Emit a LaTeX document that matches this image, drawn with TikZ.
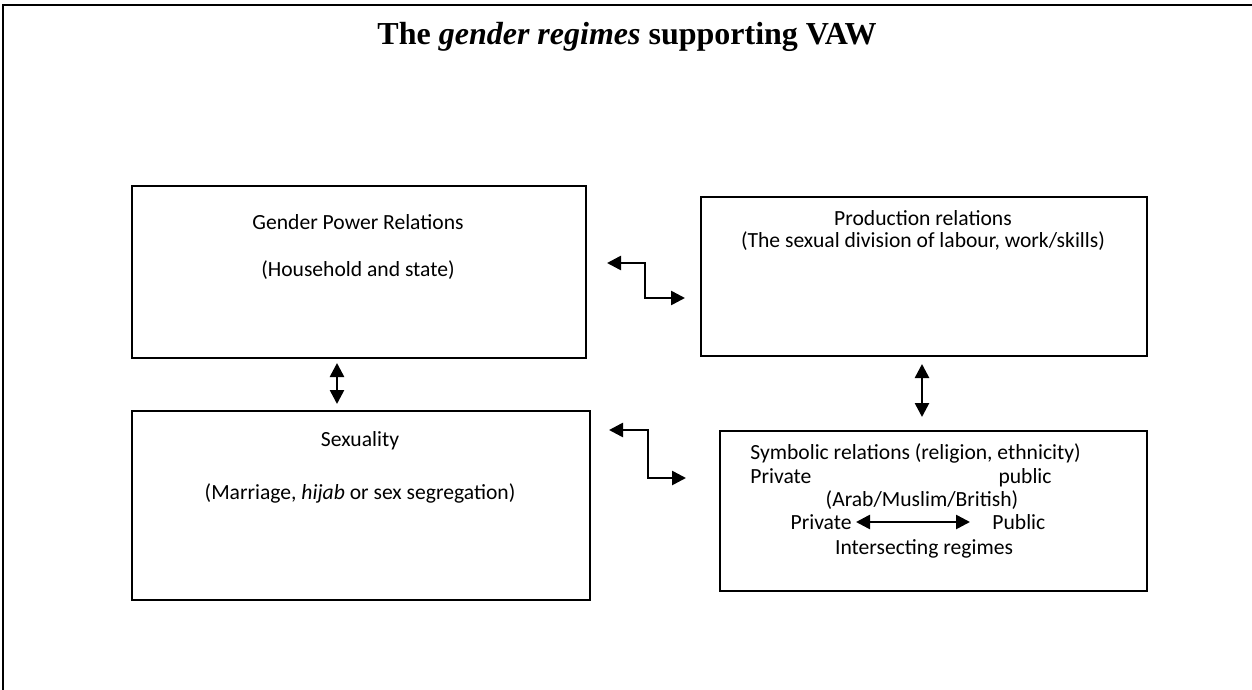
\documentclass[tikz,border=0pt]{standalone}
\usepackage{fontspec}
\setmainfont{Carlito}
\newfontfamily\titlefont{Liberation Serif}
\usetikzlibrary{arrows.meta}
\begin{document}
\begin{tikzpicture}[x=0.5pt, y=-0.5pt, font=\fontsize{10.8}{13}\selectfont, line join=miter, >={Triangle[length=7pt,width=7pt]},
	regbox/.style={draw, line width=0.8pt, anchor=north west, inner sep=0pt},
	txt/.style={inner sep=1pt},
	link/.style={<->, line width=1.3pt}]
	\useasboundingbox (0,0) rectangle (1252,690);
	% outer frame, cut off at right and bottom
	\draw[line width=1pt] (3,700) -- (3,5) -- (1260,5);
	\node[font=\titlefont\bfseries\fontsize{16}{19}\selectfont] (title) at (627,37) {The \textit{gender regimes} supporting VAW};
	% the four regimes
	\node[regbox, minimum width=227pt, minimum height=86pt] (power) at (131,185) {};
	\node[regbox, minimum width=223pt, minimum height=79.5pt] (prod) at (700,196) {};
	\node[regbox, minimum width=229pt, minimum height=94.5pt] (sex) at (131,410) {};
	\node[regbox, minimum width=213.5pt, minimum height=80pt] (symb) at (719,430) {};
	\node[txt] (power1) at (358,222) {Gender Power Relations};
	\node[txt] (power2) at (358,270) {(Household and state)};
	\node[txt] (prod1) at (923,218) {Production relations};
	\node[txt] (prod2) at (923,241) {(The sexual division of labour, work/skills)};
	\node[txt] (sex1) at (360,441) {Sexuality};
	\node[txt] (sex2) at (360,493) {(Marriage, \textit{hijab} or sex segregation)};
	\node[txt, anchor=base west] (symb1) at (748,459) {Symbolic relations (religion, ethnicity)};
	\node[txt, anchor=base west] (priv1) at (748,483) {Private};
	\node[txt, anchor=base east] (pub1) at (1054,483) {public};
	\node[txt, anchor=base] (symb2) at (922,506) {(Arab/Muslim/British)};
	\node[txt, anchor=base east] (priv2) at (854,529) {Private};
	\node[txt, anchor=base west] (pub2) at (990,529) {Public};
	\node[txt, anchor=base] (symb3) at (924,554) {Intersecting regimes};
	% connector ends
	\path
	(337,363) coordinate (v1a)
	(337,404) coordinate (v1b)
	(922,364) coordinate (v2a)
	(922,417) coordinate (v2b)
	(607,263) coordinate (e1a)
	(645,280) coordinate (e1m)
	(685,298) coordinate (e1b)
	(609,430) coordinate (e2a)
	(648,454) coordinate (e2m)
	(686,478) coordinate (e2b);
	\draw[link] (v1a) -- (v1b);
	\draw[link] (v2a) -- (v2b);
	\draw[link] (e1a) -| (e1m) |- (e1b);
	\draw[link] (e2a) -| (e2m) |- (e2b);
	\draw[link, shorten <=1pt, shorten >=10pt] ([yshift=3.5pt]priv2.base east) -- ([yshift=3.5pt]pub2.base west);
\end{tikzpicture}
\end{document}
